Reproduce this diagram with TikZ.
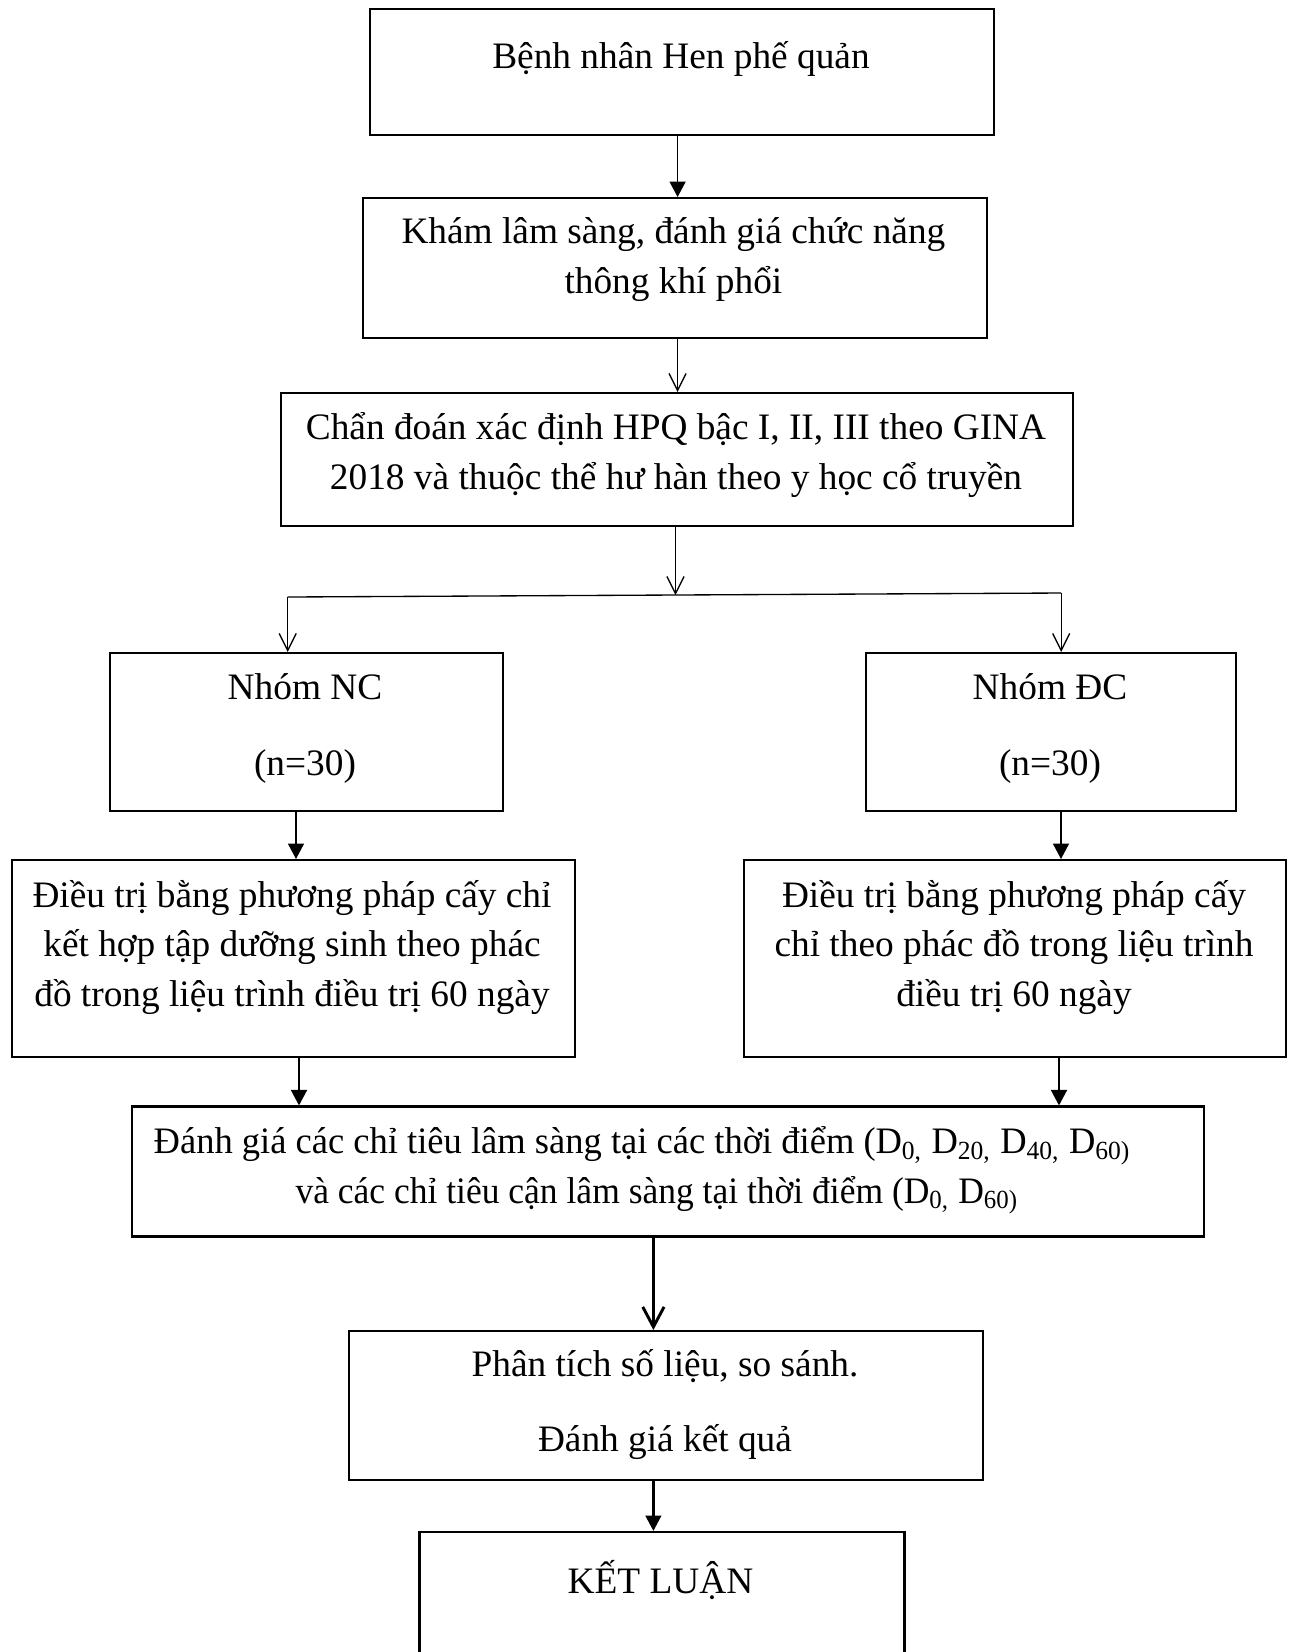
\documentclass[tikz,border=0pt]{standalone}
\usepackage{fontspec}
\setmainfont{Liberation Serif}
\usetikzlibrary{arrows.meta, positioning}

\begin{document}
\begin{tikzpicture}[x=0.375pt, y=-0.375pt, font=\fontsize{14}{18.6}\selectfont,
    box/.style 2 args={draw, line width=0.8pt, inner sep=0pt, anchor=north west,
        minimum width=#1*0.375pt, minimum height=#2*0.375pt},
    txt/.style={anchor=base, align=center, inner sep=0pt},
    fillarrow/.style={-{Triangle[length=5.8pt, width=6pt]}, line width=0.6pt},
    openarrow/.style={-{Straight Barb[length=6.4pt, width=6.4pt]}, line width=0.5pt},
    thick fill/.style={-{Triangle[length=5.8pt, width=5.8pt]}, line width=1.1pt},
    thick open/.style={-{Straight Barb[length=7.5pt, width=8pt]}, line width=1.1pt}]

    \useasboundingbox (0,0) rectangle (1293,1652);
    \clip (0,0) rectangle (1293,1652);

    % boxes
    \node[box={624}{126}] (benhnhan) at (369,8) {};
    \node[box={624}{140}] (kham) at (361.5,197) {};
    \node[box={792}{133}] (chandoan) at (280,392) {};
    \node[box={393}{158}] (nc) at (108.5,652) {};
    \node[box={370}{158}] (dc) at (865,652) {};
    \node[box={563}{197}] (dtnc) at (10.5,859) {};
    \node[box={542}{197}] (dtdc) at (743,859) {};
    \node[box={1072}{130}] (danhgia) at (130.7,1105.4) {};
    \node[box={634}{149}] (phantich) at (348,1330) {};
    \node[box={485}{200}] (ketluan) at (418.4,1531) {};

    % texts (placed at the baseline of their last line)
    \node[txt] (tbenhnhan) at (681,68.5) {Bệnh nhân Hen phế quản};
    \node[txt] (tkham) at (673.4,293) {Khám lâm sàng, đánh giá chức năng\\thông khí phổi};
    \node[txt] (tchandoan) at (676,489) {Chẩn đoán xác định HPQ bậc I, II, III theo GINA\\2018 và thuộc thể hư hàn theo y học cổ truyền};
    \node[txt] (tnc) at (305,775.6) {Nhóm NC\\[10pt](n=30)};
    \node[txt] (tdc) at (1050,775.6) {Nhóm ĐC\\[10pt](n=30)};
    \node[txt] (tdtnc) at (292,1006.4) {Điều trị bằng phương pháp cấy chỉ\\kết hợp tập dưỡng sinh theo phác\\đồ trong liệu trình điều trị 60 ngày};
    \node[txt] (tdtdc) at (1014,1006.4) {Điều trị bằng phương pháp cấy\\chỉ theo phác đồ trong liệu trình\\điều trị 60 ngày};
    \node[txt] (tdanhgia) at (650,1203) {\scalebox{0.978}[1]{Đánh giá các chỉ tiêu lâm sàng tại các thời điểm (D\textsubscript{0,} D\textsubscript{20,} D\textsubscript{40,} D\textsubscript{60)}}\hspace*{5.8pt}\\\hspace*{5.2pt}\scalebox{0.951}[1]{và các chỉ tiêu cận lâm sàng tại thời điểm (D\textsubscript{0,} D\textsubscript{60)}}};
    \node[txt] (tphantich) at (665,1451) {Phân tích số liệu, so sánh.\\[9.4pt]Đánh giá kết quả};
    \node[txt] (tketluan) at (660.5,1593) {KẾT LUẬN};

    % branch points
    \coordinate (re) at (675.5,595);
    \coordinate (reL) at (287.7,597);
    \coordinate (reR) at (1061.2,593);

    % connectors
    \draw[fillarrow] (benhnhan.south -| 677.6,0) -- (kham.north -| 677.6,0);
    \draw[openarrow] (kham.south -| 677.6,0) -- (chandoan.north -| 677.6,0);
    \draw[openarrow] (chandoan.south -| re) -- (re);
    \draw[line width=0.5pt] (reL) -- (re) -- (reR);
    \draw[openarrow] (reL) -- (reL |- nc.north);
    \draw[openarrow] (reR) -- (reR |- dc.north);
    \draw[fillarrow] (nc.south -| 296,0) -- (dtnc.north -| 296,0);
    \draw[fillarrow] (dc.south -| 1061,0) -- (dtdc.north -| 1061,0);
    \draw[fillarrow] (dtnc.south -| 299,0) -- (danhgia.north -| 299,0);
    \draw[fillarrow] (dtdc.south -| 1059,0) -- (danhgia.north -| 1059,0);
    \draw[thick open] (danhgia.south -| 653.4,0) -- (phantich.north -| 653.4,0);
    \draw[thick fill] (phantich.south -| 653.4,0) -- (ketluan.north -| 653.4,0);

\end{tikzpicture}
\end{document}
